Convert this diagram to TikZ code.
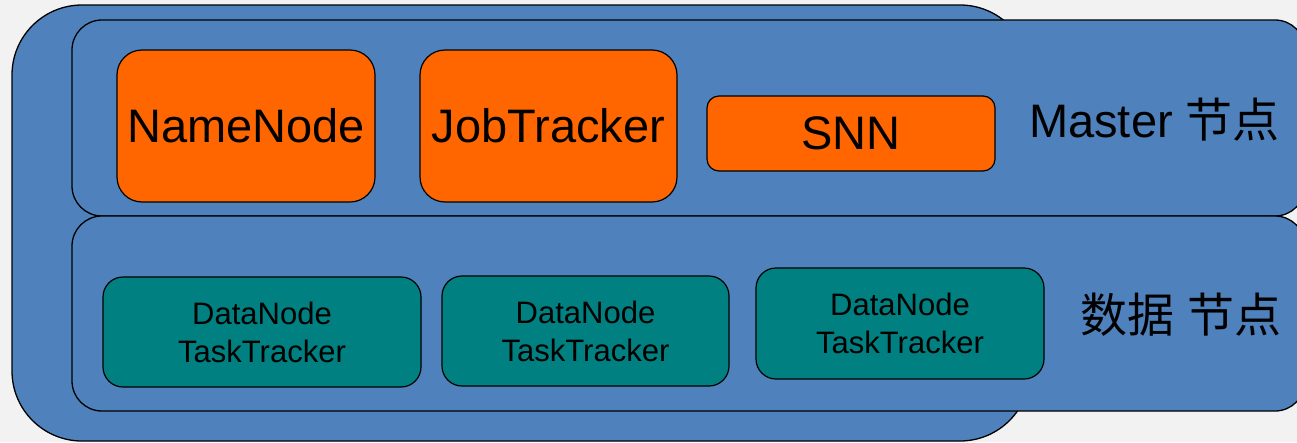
\documentclass[tikz,border=0pt]{standalone}
\usepackage{fontspec}
\setmainfont{Liberation Sans}
\newfontfamily\cjk{Noto Sans CJK SC}
\definecolor{panelblue}{HTML}{4F81BD}
\definecolor{roleorange}{HTML}{FF6600}
\definecolor{workerteal}{HTML}{008080}
\definecolor{pagegray}{HTML}{F2F2F2}

\begin{document}
\begin{tikzpicture}[x=1pt,y=-1pt,
  panel/.style={draw=black, line width=1.3pt, fill=panelblue, rectangle,
    inner sep=0pt, outer sep=0pt},
  masterbox/.style={draw=black, line width=1.2pt, fill=roleorange, rectangle,
    inner sep=0pt, outer sep=0pt, font=\fontsize{47}{56}\selectfont},
  workerbox/.style={draw=black, line width=1.2pt, fill=workerteal, rectangle,
    rounded corners=20pt, inner sep=0pt, outer sep=0pt, align=center,
    font=\fontsize{31}{38}\selectfont},
  tierlabel/.style={anchor=west, inner sep=0pt, font=\fontsize{47}{56}\selectfont}
]
\useasboundingbox (0,0) rectangle (1297,442);
\clip (0,0) rectangle (1297,442);
\fill[pagegray] (0,0) rectangle (1297,442);

% cluster frame
\node[panel, rounded corners=70pt, minimum width=1018pt, minimum height=436pt]
  (cluster) at (521,223) {};

% master tier
\node[panel, rounded corners=30pt, minimum width=1233pt, minimum height=196pt]
  (mastertier) at (688.5,118) {};
% data tier
\node[panel, rounded corners=30pt, minimum width=1233pt, minimum height=195pt]
  (datatier) at (688.5,313.5) {};

% master daemons
\node[masterbox, rounded corners=25pt, minimum width=258pt, minimum height=152pt]
  (namenode) at (246,126) {NameNode};
\node[masterbox, rounded corners=25pt, minimum width=257pt, minimum height=152pt]
  (jobtracker) at (548.5,126) {JobTracker};
\node[masterbox, rounded corners=12pt, minimum width=288pt, minimum height=75pt]
  (snn) at (851,133.5) {SNN};

% worker daemons
\node[workerbox, minimum width=318pt, minimum height=110pt]
  (worker1) at (262,332) {DataNode\\TaskTracker};
\node[workerbox, minimum width=287pt, minimum height=110pt]
  (worker2) at (585.5,331) {DataNode\\TaskTracker};
\node[workerbox, minimum width=288pt, minimum height=111pt]
  (worker3) at (900,323.5) {DataNode\\TaskTracker};

% tier labels
\node[tierlabel] (masterlabel) at (1029,120) {Master {\cjk 节点}};
\node[tierlabel] (datalabel) at (1080,315) {{\cjk 数据} {\cjk 节点}};
\end{tikzpicture}
\end{document}
